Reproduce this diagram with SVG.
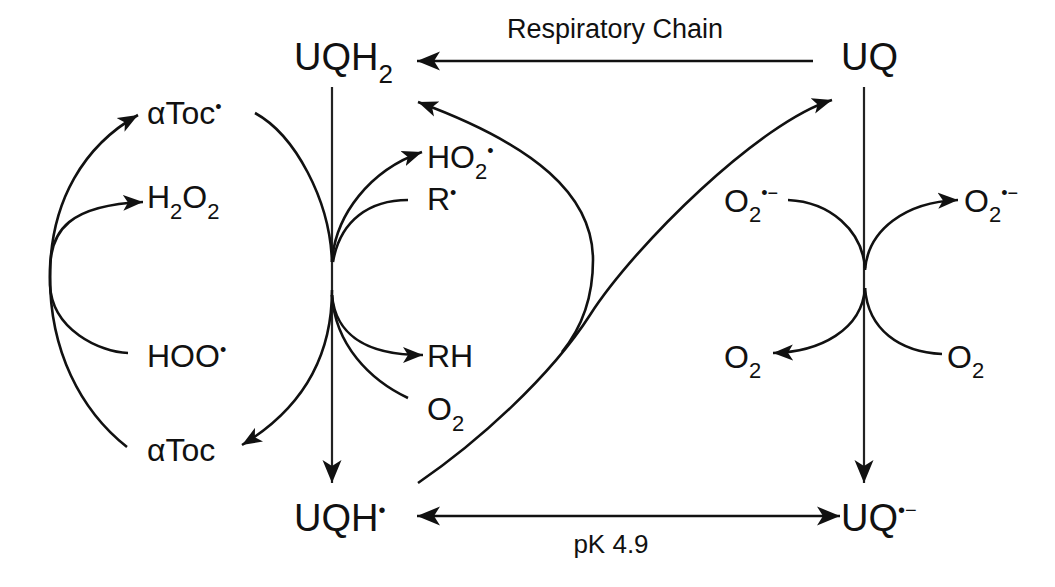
<svg xmlns="http://www.w3.org/2000/svg" width="1055" height="587" viewBox="0 0 1055 587">
  <defs>
    <style>
      text { font-family: "Liberation Sans", Arial, sans-serif; fill: #111; }
      .big { font-size: 38px; }
      .sm { font-size: 32px; }
      .sub { font-size: 22px; }
      .bsub { font-size: 26px; }
      .dot { font-size: 18px; }
      .bdot { font-size: 20px; }
      .lbl { font-size: 27px; text-anchor: middle; }
      .ln { fill: none; stroke: #111; stroke-width: 2.6; }
      .axis { fill: none; stroke: #222; stroke-width: 2.2; }
    </style>
    <marker id="big" markerUnits="userSpaceOnUse" markerWidth="24" markerHeight="20" refX="23" refY="10" orient="auto">
      <path d="M0,0.5 L23,10 L0,19.5 L6,10 Z" fill="#111"/>
    </marker>
    <marker id="bigs" markerUnits="userSpaceOnUse" markerWidth="24" markerHeight="20" refX="23" refY="10" orient="auto-start-reverse">
      <path d="M0,0.5 L23,10 L0,19.5 L6,10 Z" fill="#111"/>
    </marker>
    <marker id="sm" markerUnits="userSpaceOnUse" markerWidth="21" markerHeight="17" refX="20" refY="8.5" orient="auto">
      <path d="M0,0.5 L20,8.5 L0,16.5 L5,8.5 Z" fill="#111"/>
    </marker>
  </defs>
  <rect width="1055" height="587" fill="#fff"/>

  <g id="connectors">
    <path class="axis" d="M332,87 L332,483" marker-end="url(#big)"/>
    <path class="axis" d="M864,87 L864,483" marker-end="url(#big)"/>
    <path class="ln" d="M813,61 L417,61" marker-end="url(#big)"/>
    <path class="ln" d="M417,516 L840,516" marker-start="url(#bigs)" marker-end="url(#bigs)"/>
    <path class="ln" d="M418,483 C478,442 550,377 590,315 C635,245 760,122 832,100" marker-end="url(#sm)"/>
    <path class="ln" d="M562,352 C580,330 593,300 593,260 C593,195 535,145 418,102" marker-end="url(#sm)"/>
    <path class="ln" d="M127,447 C80,410 50,350 50,277 C50,200 85,145 138,115" marker-end="url(#sm)"/>
    <path class="ln" d="M128,353 C100,352 52,330 50,285 L50,270 C50,230 70,205 143,202" marker-end="url(#sm)"/>
    <path class="ln" d="M255,113 C295,135 330,200 332,262"/>
    <path class="ln" d="M332,290 C332,360 300,410 242,445" marker-end="url(#sm)"/>
    <path class="ln" d="M332,262 C335,215 370,170 422,152" marker-end="url(#sm)"/>
    <path class="ln" d="M408,200 C370,200 340,220 333,262"/>
    <path class="ln" d="M332,295 C335,330 360,355 423,355" marker-end="url(#sm)"/>
    <path class="ln" d="M408,398 C370,380 335,345 332,295"/>
    <path class="ln" d="M788,200 C830,202 862,230 865,268"/>
    <path class="ln" d="M865,288 C862,330 820,352 773,353" marker-end="url(#sm)"/>
    <path class="ln" d="M865,270 C868,230 905,202 958,200" marker-end="url(#sm)"/>
    <path class="ln" d="M942,354 C900,352 868,330 865,288"/>
  </g>

  <g id="labels">
    <text id="lbl-resp" class="lbl" x="615" y="38">Respiratory Chain</text>
    <text id="lbl-pk" class="lbl" x="611" y="553" style="font-size:26px">pK 4.9</text>
  </g>

  <g id="n-uqh2"><text class="big" x="294" y="70">UQH<tspan class="bsub" dy="13">2</tspan></text></g>
  <g id="n-uq"><text class="big" x="841" y="70">UQ</text></g>
  <g id="n-uqh-rad"><text class="big" x="294" y="531">UQH<tspan class="bdot" dy="-14">•</tspan></text></g>
  <g id="n-uq-rad"><text class="big" x="841" y="531">UQ<tspan class="bdot" dy="-14">•−</tspan></text></g>

  <g id="n-atoc-rad"><text class="sm" x="147" y="124">αToc<tspan class="dot" dy="-11">•</tspan></text></g>
  <g id="n-h2o2"><text class="sm" x="147" y="208">H<tspan class="sub" dy="11">2</tspan><tspan dy="-11">O</tspan><tspan class="sub" dy="11">2</tspan></text></g>
  <g id="n-hoo"><text class="sm" x="147" y="367">HOO<tspan class="dot" dy="-11">•</tspan></text></g>
  <g id="n-atoc"><text class="sm" x="147" y="461">αToc</text></g>

  <g id="n-ho2"><text class="sm" x="427" y="168">HO<tspan class="sub" dy="11">2</tspan><tspan class="dot" dy="-22">•</tspan></text></g>
  <g id="n-r"><text class="sm" x="427" y="210">R<tspan class="dot" dy="-11">•</tspan></text></g>
  <g id="n-rh"><text class="sm" x="427" y="367">RH</text></g>
  <g id="n-o2a"><text class="sm" x="427" y="420">O<tspan class="sub" dy="11">2</tspan></text></g>

  <g id="n-o2rad-l"><text class="sm" x="724" y="212">O<tspan class="sub" dy="10">2</tspan><tspan class="dot" dy="-23">•−</tspan></text></g>
  <g id="n-o2rad-r"><text class="sm" x="964" y="212">O<tspan class="sub" dy="10">2</tspan><tspan class="dot" dy="-23">•−</tspan></text></g>
  <g id="n-o2-l"><text class="sm" x="724" y="368">O<tspan class="sub" dy="10">2</tspan></text></g>
  <g id="n-o2-r"><text class="sm" x="947" y="368">O<tspan class="sub" dy="10">2</tspan></text></g>
</svg>
